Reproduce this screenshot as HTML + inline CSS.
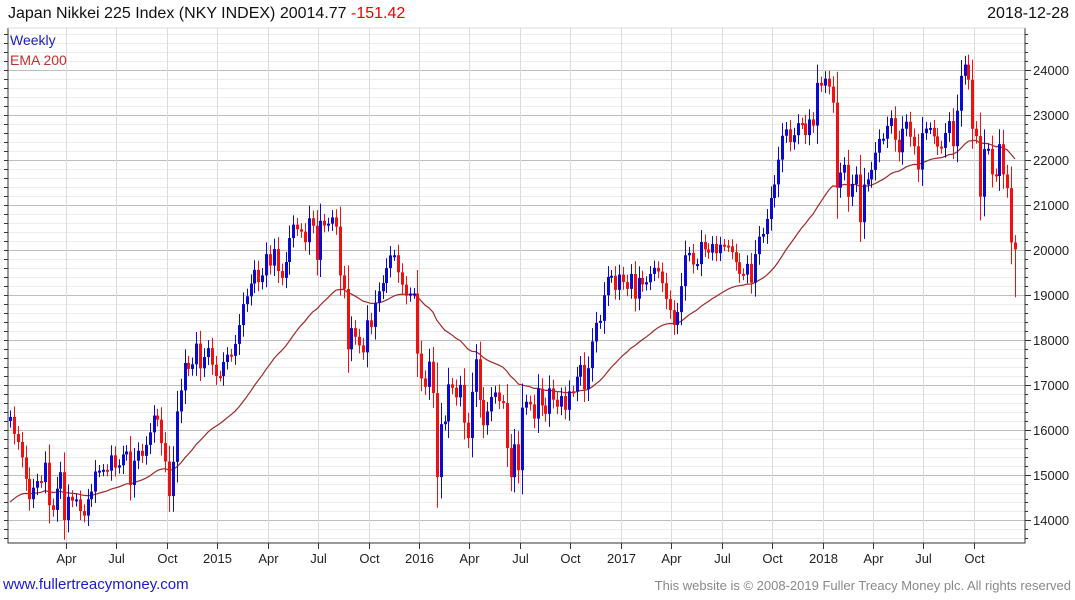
<!DOCTYPE html>
<html><head><meta charset="utf-8"><style>
body{margin:0;background:#fff;font-family:"Liberation Sans",sans-serif;}
#wrap{position:relative;width:1075px;height:600px;overflow:hidden;}
.t{position:absolute;white-space:nowrap;}
</style></head><body>
<div id="wrap">
<svg id="svg" width="1075" height="600" style="position:absolute;left:0;top:0"></svg>
<div class="t" style="left:8px;top:5px;font-size:16px;color:#111">Japan Nikkei 225 Index (NKY INDEX) 20014.77 <span style="color:#e00">-151.42</span></div>
<div class="t" style="right:6px;top:5px;font-size:16px;color:#111">2018-12-28</div>
<div class="t" style="left:10px;top:32px;font-size:14px;color:#1a1acc">Weekly</div>
<div class="t" style="left:10px;top:52px;font-size:14px;color:#c03030">EMA 200</div>
<div class="t" style="left:3px;top:576px;font-size:15px;color:#1a1acc">www.fullertreacymoney.com</div>
<div class="t" style="right:4px;top:578px;font-size:13px;color:#888">This website is © 2008-2019 Fuller Treacy Money plc. All rights reserved</div>
</div>
<script>
const closes=[16290,15912,15734,15391,14914,14462,14718,14865,14841,15274,14327,14224,14696,15063,14000,14516,14429,14458,14199,14097,14462,14632,15077,15097,15115,15095,15437,15165,15215,15457,15523,14778,15318,15539,15425,15669,15948,16321,16229,15709,15300,14532,15291,16413,16880,17490,17357,17460,17920,17371,17621,17818,17451,
17198,17197,17512,17674,17648,17913,18332,18798,18971,19254,19560,19286,19435,19908,19653,20020,19532,19380,19733,20264,20563,20461,20407,20174,20706,20539,19780,20650,20544,20585,20724,20519,19435,19136,17792,18264,18070,17880,17725,18438,18291,18825,19083,19265,19597,19880,19883,19504,19230,18986,19033,19034,
17698,17147,16958,17518,16820,14953,16130,16188,17015,16938,16725,17002,16164,15821,16848,17572,16666,16106,16412,16736,16834,16642,16601,15599,14952,15682,15107,16497,16627,16569,16254,16919,16545,16360,16925,16673,16519,16754,16449,16860,16856,17184,17446,16905,17374,17967,18381,18426,18996,19401,19427,19114,
19454,19287,19137,19467,18918,19378,19235,19283,19469,19604,19521,19262,18909,18664,18335,18620,19197,19883,19935,19678,19687,20177,20013,19943,20132,19929,20118,20099,20080,19952,19729,19470,19452,19691,19274,19909,20296,20356,20690,21155,21457,22008,22539,22681,22396,22551,22819,22811,22553,22902,22764,
23714,23653,23808,23631,23274,21383,21720,21893,21182,21469,21677,20617,21454,21568,21779,22162,22468,22473,22758,22930,22450,22171,22695,22851,22516,22305,21788,22597,22698,22712,22525,22298,22270,22601,22865,22307,23095,23870,24120,23784,22694,22532,21184,22243,22250,21680,21646,22351,21679,21374,20166,20014];
const firstOpen=16200;
const lastLow=18950;
const emaSeed=14300;
const yTicks=[14000,15000,16000,17000,18000,19000,20000,21000,22000,23000,24000];
const xLabels=["Apr","Jul","Oct","2015","Apr","Jul","Oct","2016","Apr","Jul","Oct","2017","Apr","Jul","Oct","2018","Apr","Jul","Oct"];
const xLabelWeeks=[14.4,27.4,40.4,53.4,66.4,79.4,92.4,105.4,118.4,131.4,144.4,157.4,170.4,183.4,196.4,209.4,222.4,235.4,248.4];

const PL=8,PR=1025,PT=28,PB=543;
const yS=v=>70+(24000-v)*0.045;
const nC=closes.length;
const xS=i=>10+i*(1005/(nC-1));
const svgEl=document.getElementById('svg');
const NS='http://www.w3.org/2000/svg';
function mk(tag,a){const el=document.createElementNS(NS,tag);for(const k in a)el.setAttribute(k,a[k]);svgEl.appendChild(el);return el;}
for(let v=13400;v<=24800;v+=200){const yy=yS(v);if(yy<PT||yy>PB)continue;
 const g=mk('line',{x1:PL,x2:PR,y1:yy+.5,y2:yy+.5,stroke:v%1000===0?'#bdbdbd':'#ececec','stroke-width':1});
 
 
 const tk=mk('line',{x1:PR,x2:PR+(v%1000===0?6:3),y1:yy+.5,y2:yy+.5,stroke:'#333'});
 
 
 const tl=mk('line',{x1:PL-4,x2:PL,y1:yy+.5,y2:yy+.5,stroke:'#333'});
 
 
}
xLabelWeeks.forEach((w,k)=>{const xx=Math.round(xS(w))+.5;
 const g=mk('line',{x1:xx,x2:xx,y1:PT,y2:PB,stroke:'#dcdcdc'});
 
 
 const tk=mk('line',{x1:xx,x2:xx,y1:PB,y2:PB+6,stroke:'#333'});
 
 
 const t=mk('text',{x:xx,y:PB+20,'text-anchor':'middle','font-size':13,fill:'#222','font-family':'Liberation Sans, sans-serif'});
 t.textContent=xLabels[k];
 
 
});
yTicks.forEach(v=>{const t=mk('text',{x:PR+8,y:yS(v)+5,'font-size':13,fill:'#222','font-family':'Liberation Sans, sans-serif'});
 t.textContent=v;
 
 
});
const frameEl=mk('polyline',{points:`${PL},${PT} ${PL},${PB} ${PR},${PB} ${PR},${PT}`,fill:'none',stroke:'#333'});


const topBorder=mk('line',{x1:PL,x2:PR,y1:PT,y2:PT,stroke:'#ddd'});


let emaV=emaSeed;const emaPts=[];const alpha=2/41;
closes.forEach((c,i)=>{emaV=emaV+alpha*(c-emaV);emaPts.push(xS(i).toFixed(1)+','+yS(emaV).toFixed(1));});
const emaLine=mk('polyline',{points:emaPts.join(' '),fill:'none',stroke:'#a02828','stroke-width':1.2});


closes.forEach((c,i)=>{
 const o=i===0?firstOpen:closes[i-1];
 const up=c>=o;const col=up?'#0a0ad0':'#f01010';
 const hiB=Math.max(o,c),loB=Math.min(o,c),w=Math.abs(c-o)*0.3+120;
 let hi=hiB+w,lo=loB-w; if(i===nC-1)lo=lastLow;
 const xx=Math.round(xS(i));
 const wk=mk('line',{x1:xx+.5,x2:xx+.5,y1:yS(hi),y2:yS(lo),stroke:col,'stroke-width':1});
 
 
 const h=Math.max(2,yS(loB)-yS(hiB));
 const bd=mk('rect',{x:xx-1,y:yS(hiB),width:3,height:h,fill:col});
 
 
});
</script>
</body></html>
